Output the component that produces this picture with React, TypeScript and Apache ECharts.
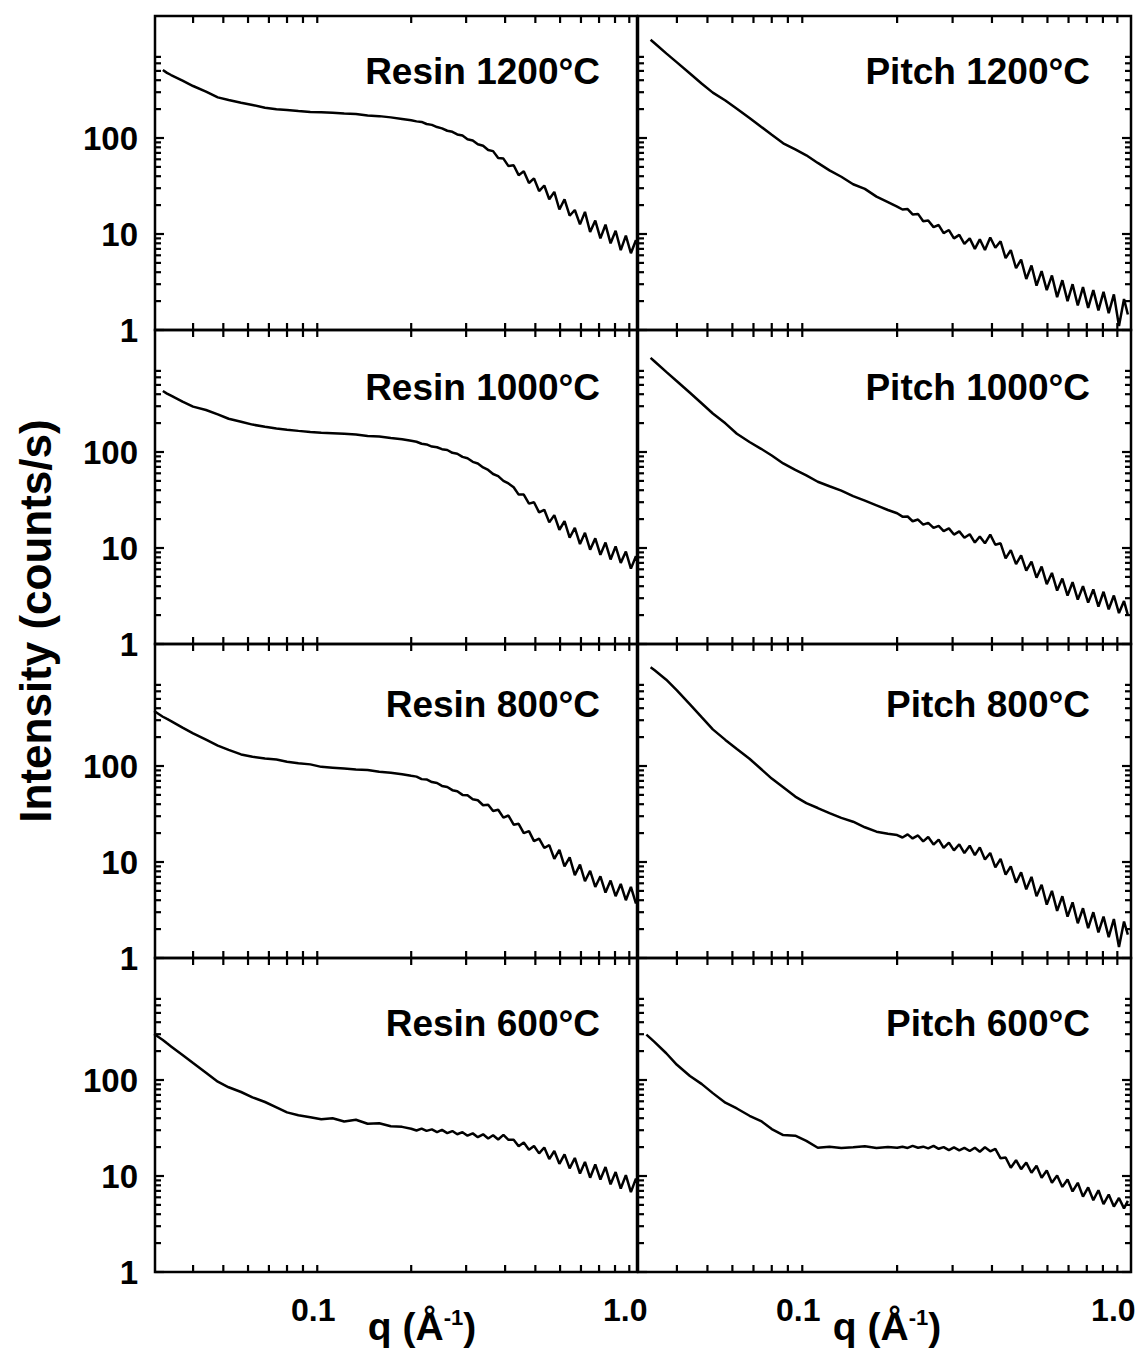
import React, { useEffect, useRef } from "react";
import * as echarts from "echarts";

// ---------- data ----------
// q grid, Å^-1 : smooth low-q part and dense high-q part
const qSmooth = [0.03, 0.032, 0.033, 0.034, 0.037, 0.04, 0.044, 0.048, 0.052, 0.057, 0.062, 0.068, 0.074, 0.08, 0.087, 0.095, 0.103, 0.112, 0.122, 0.133, 0.145, 0.158, 0.172, 0.187];
const qNoisy = [0.2, 0.208, 0.216, 0.224, 0.233, 0.242, 0.251, 0.261, 0.271, 0.281, 0.292, 0.303, 0.315, 0.327, 0.34, 0.353, 0.366, 0.38, 0.395, 0.41, 0.426, 0.442, 0.459, 0.477, 0.495, 0.514, 0.534, 0.554, 0.575, 0.597, 0.62, 0.644, 0.669, 0.695, 0.721, 0.749, 0.778, 0.808, 0.839, 0.871, 0.904, 0.939, 0.975, 1.012, 1.05, 1.08];
const qGrid = [...qSmooth, ...qNoisy];

// Intensity (counts/s); null = curve not yet started
const resin1200 = [
  null, 511, 477, 453, 396, 348, 304, 265, 249, 233, 221, 207, 199, 196, 191, 187, 185, 183, 180, 178, 172, 169, 164, 158,
  153, 149, 147, 140, 137, 130, 126, 119, 116, 109, 106, 97, 94, 86, 83, 75, 73, 62, 61, 51,
  52, 41, 45, 34, 38, 28, 32, 23, 27.5, 18, 23, 15.5, 17.8, 12.6, 17, 10.5, 13.8, 9.0, 12.5, 8.0,
  10.8, 6.8, 9.6, 6.3, 8.6, 6.5,
];
const resin1000 = [
  null, 432, 406, 386, 334, 297, 274, 247, 222, 207, 193, 183, 176, 171, 166, 162, 159, 157, 155, 152, 147, 145, 140, 136,
  131, 128, 122, 120, 114, 112, 107, 105, 98, 96, 89, 86, 79, 76, 69, 65, 59, 56, 50, 47,
  43, 36, 36, 29, 30, 23.5, 25, 18.5, 22, 15.5, 19, 12.8, 16.2, 11, 14.4, 9.6, 12.6, 8.5, 11.4, 7.6,
  10.4, 7.0, 9.2, 6.1, 8.2, 5.7,
];
const resin800 = [
  374, 326, 309, 294, 251, 219, 188, 163, 147, 132, 125, 120, 117, 111, 107, 104, 98, 96, 94, 92, 91, 87, 85, 82,
  79, 77.5, 73, 72.5, 68, 66.5, 62, 60.5, 56, 54.5, 50, 49.5, 45, 44, 39, 39.5, 34, 35, 29, 30.5,
  24.5, 25, 20, 21, 16.5, 17.5, 14, 15, 10.8, 13.4, 9.0, 11.2, 7.3, 9.4, 6.3, 8.1, 5.5, 7.1, 4.8, 6.4,
  4.4, 5.9, 4.0, 5.5, 3.7, 4.9,
];
const resin600 = [
  301, 261, 241, 224, 182, 150, 119, 96, 84, 75, 66, 59, 52, 46, 43, 41, 39, 40, 37, 38.5, 35, 35.5, 33, 32.5,
  31.1, 29.8, 31.2, 29.5, 30.6, 28.7, 30.2, 28.0, 29.4, 27.2, 28.6, 26.3, 27.8, 25.4, 27.2, 24.6, 26.6, 24.0, 26.8, 23.8,
  23.8, 20.4, 22.3, 18.8, 20.5, 17.2, 19.8, 15.0, 18.2, 13.4, 16.8, 12.0, 15.4, 10.6, 14.0, 9.6, 13.2, 9.2, 12.4, 8.2,
  11.0, 7.4, 10.2, 6.8, 9.4, 7.2,
];
const pitch1200 = [
  null, null, 1054, 971, 762, 614, 470, 368, 297, 246, 202, 162, 131, 108, 88, 76, 66, 55, 46, 39.5, 33, 29.5, 24.5, 21.5,
  19.3, 18.0, 18.2, 16.0, 16.2, 13.6, 13.8, 11.8, 12.4, 10.2, 11.0, 9.0, 9.8, 7.9, 9.0, 7.0, 8.8, 6.8, 9.2, 7.2,
  8.4, 5.6, 6.8, 4.4, 5.4, 3.4, 4.7, 2.9, 4.1, 2.6, 3.7, 2.2, 3.3, 2.0, 3.0, 1.8, 2.8, 1.7, 2.6, 1.6,
  2.5, 1.5, 2.35, 1.1, 2.1, 1.45,
];
const pitch1000 = [
  null, null, 957, 877, 684, 546, 414, 320, 252, 199, 155, 127, 108, 92, 76, 65, 57, 49, 44, 39.6, 34.7, 31.1, 27.8, 24.9,
  23, 21.2, 21.3, 19.0, 19.8, 17.5, 18.3, 16.2, 17.0, 15.0, 16.0, 13.8, 14.9, 12.8, 13.9, 11.4, 13.2, 11.2, 13.8, 10.8,
  11.2, 7.8, 9.5, 6.8, 8.4, 5.8, 7.2, 4.9, 6.4, 4.2, 5.5, 3.6, 4.8, 3.2, 4.4, 2.9, 4.0, 2.7, 3.7, 2.45,
  3.5, 2.3, 3.2, 2.1, 2.8, 2.0,
];
const pitch800 = [
  null, null, 1066, 993, 793, 614, 439, 321, 241, 187, 150, 119, 93, 74, 60, 48, 41, 36.5, 32.3, 28.8, 26.3, 23, 20.7, 19.7,
  19.1, 18.0, 19.4, 17.6, 18.9, 16.4, 18.2, 15.2, 17.1, 14.0, 15.9, 13.2, 15.3, 12.4, 14.8, 11.8, 14.2, 10.6, 12.4, 8.8,
  10.8, 7.4, 9.0, 6.1, 7.8, 5.2, 7.0, 4.4, 5.8, 3.6, 5.0, 3.1, 4.4, 2.7, 3.8, 2.3, 3.3, 2.05, 3.0, 1.85,
  2.7, 1.65, 2.55, 1.3, 2.4, 1.75,
];
const pitch600 = [
  null, 297, 271, 248, 190, 144, 110, 90.6, 73, 58, 50.5, 42.4, 37.3, 30.8, 26.7, 26.3, 23.2, 19.7, 20.2, 19.6, 19.9, 20.4, 19.6, 20.1,
  19.7, 20.2, 19.6, 20.6, 19.7, 20.2, 19.4, 20.6, 19.2, 20, 18.6, 19.9, 18.5, 19.6, 18.2, 19.7, 17.9, 19.9, 18.1, 19.2,
  15.3, 15.6, 12.2, 14.6, 11.8, 13.8, 10.8, 12.8, 9.6, 11.4, 8.5, 10.1, 7.7, 9.2, 6.9, 8.5, 6.1, 7.6, 5.6, 7.1,
  5.1, 6.4, 4.8, 5.9, 4.6, 5.5,
];

const panelLabels = ["Resin 1200°C", "Pitch 1200°C", "Resin 1000°C", "Pitch 1000°C", "Resin 800°C", "Pitch 800°C", "Resin 600°C", "Pitch 600°C"];
const panelValues = [resin1200, pitch1200, resin1000, pitch1000, resin800, pitch800, resin600, pitch600];

const xMajorTicks = [0.1, 1.0];
const xMinorTicks = [0.04, 0.05, 0.06, 0.07, 0.08, 0.09, 0.2, 0.3, 0.4, 0.5, 0.6, 0.7, 0.8, 0.9];
const xTickLabels = ["0.1", "1.0"];
const yMajorTicks = [1, 10, 100];
const yMinorTicks = [2, 3, 4, 5, 6, 7, 8, 9, 20, 30, 40, 50, 60, 70, 80, 90, 200, 300, 400, 500, 600, 700];
const yTickLabels = ["1", "10", "100"];
const yTitle = "Intensity (counts/s)";

// ---------- layout ----------
const COLS = [
  { left: 155, width: 482, min: 0.0302, max: 1.0585, labelRight: 600, qCenter: 422 },
  { left: 638, width: 493, min: 0.0301, max: 1.105, labelRight: 1090, qCenter: 887 },
];
const ROW_TOP = 16;
const ROW_H = 314;
const Y_MIN = 1;
const Y_MAX = 1866;
const LABEL_CY = [71, 387, 704, 1023];
const FAMILY = '"Liberation Sans", Arial, Helvetica, sans-serif';

function makeRender(rightTicks: boolean) {
  return (params: any, api: any) => {
    const cs = params.coordSys;
    const kind = api.value(2);
    const idx = api.value(3);
    const p = api.coord([api.value(0), api.value(1)]);
    const st = { stroke: "#000", lineWidth: 2.2 };
    const bottom = cs.y + cs.height;
    const right = cs.x + cs.width;
    if (kind === 0) {
      const L = 7;
      return {
        type: "group",
        children: [
          { type: "line", shape: { x1: p[0], y1: bottom, x2: p[0], y2: bottom - L }, style: st },
          { type: "line", shape: { x1: p[0], y1: cs.y, x2: p[0], y2: cs.y + L }, style: st },
        ],
      };
    }
    if (kind === 1 || kind === 2) {
      const L = kind === 1 ? 9 : 6;
      const children: any[] = [
        { type: "line", shape: { x1: cs.x, y1: p[1], x2: cs.x + L, y2: p[1] }, style: st },
      ];
      if (rightTicks) {
        children.push({ type: "line", shape: { x1: right, y1: p[1], x2: right - L, y2: p[1] }, style: st });
      }
      return { type: "group", children };
    }
    if (kind === 3) {
      return {
        type: "text",
        x: p[0] - 4,
        y: bottom + 38,
        style: {
          text: xTickLabels[idx],
          font: `bold 32px ${FAMILY}`,
          fill: "#000",
          align: "center",
          verticalAlign: "middle",
        },
      };
    }
    return {
      type: "text",
      x: cs.x - 17,
      y: p[1],
      style: {
        text: yTickLabels[idx],
        font: `bold 33px ${FAMILY}`,
        fill: "#000",
        align: "right",
        verticalAlign: "middle",
      },
    };
  };
}

function buildOption() {
  const grid: any[] = [];
  const xAxis: any[] = [];
  const yAxis: any[] = [];
  const series: any[] = [];
  const graphic: any[] = [];

  panelValues.forEach((vals, i) => {
    const row = Math.floor(i / 2);
    const c = i % 2;
    const col = COLS[c];
    const top = ROW_TOP + row * ROW_H;
    grid.push({
      left: col.left,
      top,
      width: col.width,
      height: ROW_H,
      show: true,
      borderColor: "#000",
      borderWidth: 2.5,
      backgroundColor: "transparent",
    });
    xAxis.push({ type: "log", logBase: 10, gridIndex: i, min: col.min, max: col.max, show: false });
    yAxis.push({ type: "log", logBase: 10, gridIndex: i, min: Y_MIN, max: Y_MAX, show: false });

    const data: number[][] = [];
    qGrid.forEach((q, k) => {
      const v = vals[k];
      if (v !== null && v !== undefined) data.push([q, v]);
    });
    series.push({
      type: "line",
      xAxisIndex: i,
      yAxisIndex: i,
      data,
      showSymbol: false,
      symbol: "none",
      silent: true,
      clip: true,
      z: 2,
      lineStyle: { color: "#000", width: 2.5 },
    });

    const deco: number[][] = [];
    [...xMajorTicks, ...xMinorTicks].forEach((x) => deco.push([x, 1, 0, 0]));
    yMajorTicks.forEach((y) => deco.push([0.1, y, 1, 0]));
    yMinorTicks.forEach((y) => deco.push([0.1, y, 2, 0]));
    if (c === 0) yMajorTicks.forEach((y, j) => deco.push([0.1, y, 4, j]));
    if (row === 3) xMajorTicks.forEach((x, j) => deco.push([x, 1, 3, j]));
    series.push({
      type: "custom",
      xAxisIndex: i,
      yAxisIndex: i,
      data: deco,
      encode: { x: 0, y: 1 },
      renderItem: makeRender(c === 1),
      silent: true,
      z: 3,
    });

    graphic.push({
      type: "text",
      x: col.labelRight,
      y: LABEL_CY[row],
      style: {
        text: panelLabels[i],
        font: `bold 37px ${FAMILY}`,
        fill: "#000",
        align: "right",
        verticalAlign: "middle",
      },
    });
  });

  COLS.forEach((col) => {
    graphic.push({
      type: "text",
      x: col.qCenter,
      y: 1326,
      style: {
        text: "{a|q (Å}{b|-1}{a|)}",
        align: "center",
        verticalAlign: "middle",
        rich: {
          a: { font: `bold 39px ${FAMILY}`, fill: "#000", lineHeight: 40 },
          b: { font: `bold 22px ${FAMILY}`, fill: "#000", lineHeight: 40, verticalAlign: "top" },
        },
      },
    });
  });

  graphic.push({
    type: "text",
    x: 35,
    y: 621,
    rotation: Math.PI / 2,
    style: {
      text: yTitle,
      font: `bold 44px ${FAMILY}`,
      fill: "#000",
      align: "center",
      verticalAlign: "middle",
    },
  });

  return {
    animation: false,
    backgroundColor: "#fff",
    grid,
    xAxis,
    yAxis,
    series,
    graphic,
  };
}

export default function App() {
  const ref = useRef<HTMLDivElement | null>(null);
  useEffect(() => {
    if (!ref.current) return;
    const chart = echarts.init(ref.current, undefined, { renderer: "svg" });
    chart.setOption(buildOption() as any);
    return () => chart.dispose();
  }, []);
  return (
    <div
      ref={ref}
      style={{ position: "absolute", left: 0, top: 0, width: 1145, height: 1355, background: "#fff" }}
    />
  );
}
